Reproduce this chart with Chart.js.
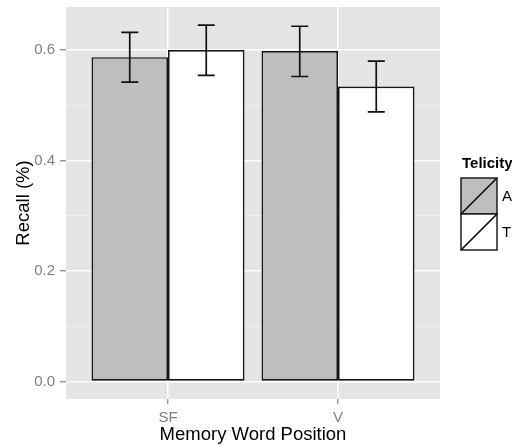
<!DOCTYPE html>
<html>
<head>
<meta charset="utf-8">
<script src="https://cdn.jsdelivr.net/npm/chart.js@4.4.0/dist/chart.umd.min.js"></script>
<style>
html, body { margin: 0; padding: 0; background: #fff; }
</style>
</head>
<body>
<canvas id="recallChart" width="512" height="446"></canvas>
<script>
// values
const positions = ['SF', 'V'];
const telicity = ['A', 'T'];
const recallA = [0.587, 0.598];
const recallT = [0.600, 0.534];
const errLowA = [0.542, 0.552];
const errHighA = [0.632, 0.643];
const errLowT = [0.554, 0.488];
const errHighT = [0.645, 0.580];
const yMajor = [0.0, 0.2, 0.4, 0.6];
const yMinor = [0.1, 0.3, 0.5];

const FONT = '"Liberation Sans", Arial, Helvetica, sans-serif';
const capWidth = 0.1;

function isMajor(v) {
    return yMajor.some(m => Math.abs(m - v) < 1e-9);
}

// grey panel behind the plot
const panelBg = {
    id: 'panelBg',
    beforeDraw(chart) {
        const { ctx, chartArea: a } = chart;
        ctx.save();
        ctx.fillStyle = '#e5e5e5';
        ctx.fillRect(a.left, a.top, a.right - a.left, a.bottom - a.top);
        ctx.restore();
    }
};

const errorBars = {
    id: 'errorBars',
    afterDatasetsDraw(chart) {
        const { ctx, scales: { x, y } } = chart;
        const half = (x.getPixelForValue(capWidth) - x.getPixelForValue(0)) / 2;
        ctx.save();
        ctx.strokeStyle = '#111';
        ctx.lineWidth = 1.7;
        chart.data.datasets.forEach((ds, i) => {
            chart.getDatasetMeta(i).data.forEach((bar, j) => {
                const top = y.getPixelForValue(ds.errHigh[j]);
                const bot = y.getPixelForValue(ds.errLow[j]);
                ctx.beginPath();
                ctx.moveTo(bar.x, top);
                ctx.lineTo(bar.x, bot);
                ctx.moveTo(bar.x - half, top);
                ctx.lineTo(bar.x + half, top);
                ctx.moveTo(bar.x - half, bot);
                ctx.lineTo(bar.x + half, bot);
                ctx.stroke();
            });
        });
        ctx.restore();
    }
};

// ggplot style legend with slashed keys
const fillLegend = {
    id: 'fillLegend',
    afterDraw(chart) {
        const { ctx } = chart;
        const left = 461, top = 178, key = 36;
        ctx.save();
        ctx.fillStyle = '#000';
        ctx.font = 'bold 15px ' + FONT;
        ctx.textBaseline = 'alphabetic';
        ctx.textAlign = 'left';
        ctx.fillText('Telicity', 462, 168);
        ctx.font = '15px ' + FONT;
        ctx.textBaseline = 'middle';
        chart.data.datasets.forEach((ds, i) => {
            const ky = top + i * key;
            ctx.fillStyle = ds.backgroundColor;
            ctx.fillRect(left, ky, key, key);
            ctx.strokeStyle = '#111';
            ctx.lineWidth = 1.4;
            ctx.strokeRect(left, ky, key, key);
            ctx.lineWidth = 1.7;
            ctx.beginPath();
            ctx.moveTo(left, ky + key);
            ctx.lineTo(left + key, ky);
            ctx.stroke();
            ctx.fillStyle = '#000';
            ctx.fillText(ds.label, left + key + 5, ky + key / 2 + 1);
        });
        ctx.restore();
    }
};

const ctx = document.getElementById('recallChart').getContext('2d');
new Chart(ctx, {
    type: 'bar',
    data: {
        datasets: [{
            label: telicity[0],
            data: recallA.map((v, i) => ({ x: i + 1, y: v })),
            errLow: errLowA,
            errHigh: errHighA,
            backgroundColor: '#bebebe'
        }, {
            label: telicity[1],
            data: recallT.map((v, i) => ({ x: i + 1, y: v })),
            errLow: errLowT,
            errHigh: errHighT,
            backgroundColor: '#ffffff'
        }]
    },
    options: {
        responsive: false,
        animation: false,
        layout: { padding: { top: 7, right: 72, left: 0, bottom: 0 } },
        datasets: {
            bar: {
                borderColor: '#161616',
                borderWidth: 1.7,
                borderSkipped: false,
                barPercentage: 1.0,
                categoryPercentage: 0.9
            }
        },
        plugins: {
            legend: { display: false },
            tooltip: { enabled: false }
        },
        scales: {
            x: {
                type: 'linear',
                min: 0.4,
                max: 2.6,
                offset: false,
                afterBuildTicks: s => { s.ticks = positions.map((p, i) => ({ value: i + 1 })); },
                afterFit: s => {
                    s.height = 47;
                    s.paddingLeft = 0;
                    s.paddingRight = 0;
                },
                border: { display: false },
                grid: {
                    offset: false,
                    color: '#ffffff',
                    lineWidth: 1.5,
                    tickColor: '#7f7f7f',
                    tickLength: 5,
                    tickWidth: 1.2
                },
                ticks: {
                    autoSkip: false,
                    maxRotation: 0,
                    padding: 5,
                    color: '#7f7f7f',
                    font: { family: FONT, size: 15 },
                    callback: v => positions[Math.round(v) - 1]
                },
                title: {
                    display: true,
                    text: 'Memory Word Position',
                    color: '#000',
                    padding: { top: 0, bottom: 0 },
                    font: { family: FONT, size: 18.5 }
                }
            },
            y: {
                min: -0.0317,
                max: 0.6778,
                afterBuildTicks: s => {
                    s.ticks = yMajor.concat(yMinor).sort((a, b) => a - b).map(v => ({ value: v }));
                },
                afterFit: s => {
                    s.width = 66;
                    s.paddingTop = 0;
                    s.paddingBottom = 0;
                },
                border: { display: false },
                grid: {
                    color: c => isMajor(c.tick.value) ? '#ffffff' : '#f2f2f2',
                    lineWidth: c => isMajor(c.tick.value) ? 1.5 : 0.8,
                    tickColor: c => isMajor(c.tick.value) ? '#7f7f7f' : 'rgba(0,0,0,0)',
                    tickLength: 6,
                    tickWidth: 1.2
                },
                ticks: {
                    autoSkip: false,
                    padding: 5,
                    color: '#7f7f7f',
                    font: { family: FONT, size: 15 },
                    callback: v => isMajor(v) ? v.toFixed(1) : ''
                },
                title: {
                    display: true,
                    text: 'Recall (%)',
                    color: '#000',
                    padding: { top: 13, bottom: 0 },
                    font: { family: FONT, size: 18.5 }
                }
            }
        }
    },
    plugins: [panelBg, errorBars, fillLegend]
});
</script>
</body>
</html>
